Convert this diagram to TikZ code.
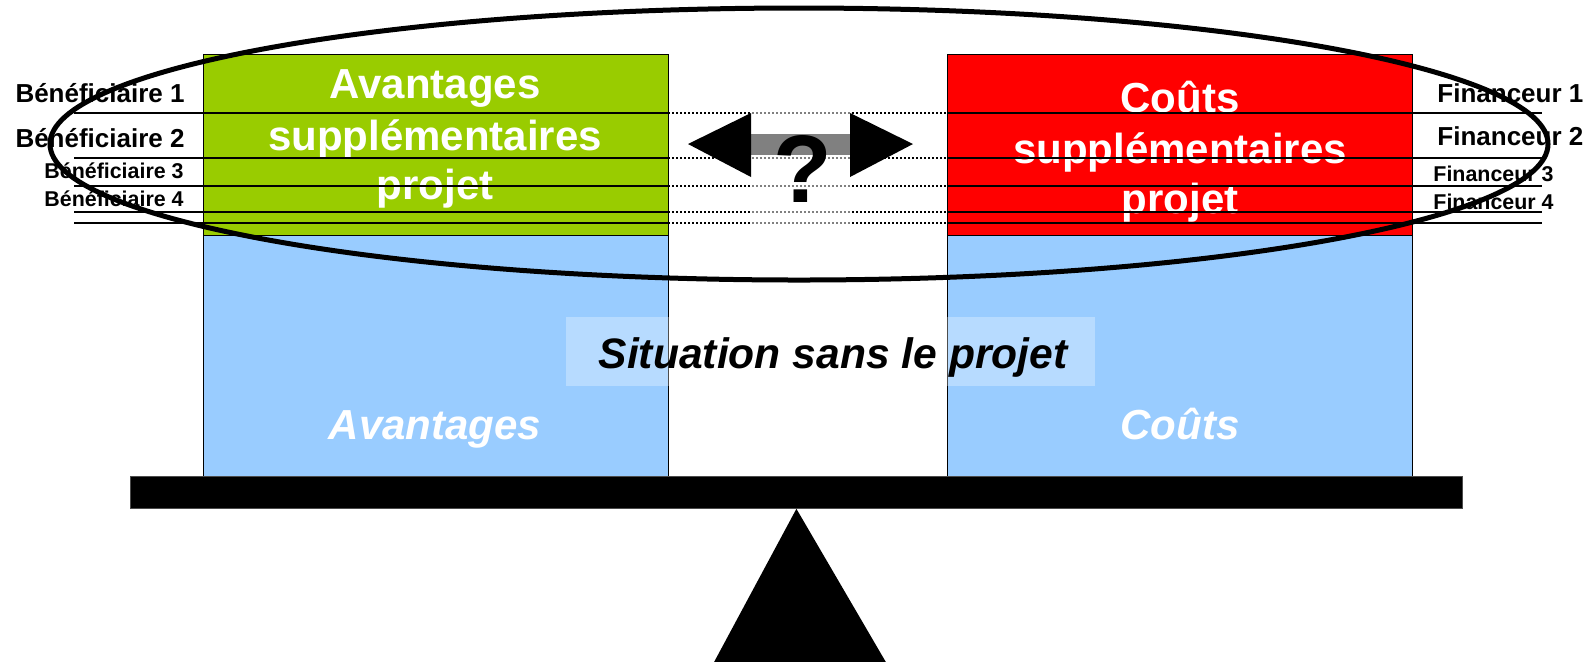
\documentclass[tikz,border=0pt]{standalone}
\usepackage{fontspec}
\setmainfont{Liberation Sans}
\usetikzlibrary{positioning, calc}

\definecolor{vert}{HTML}{99CC00}
\definecolor{rouge}{HTML}{FF0000}
\definecolor{bleu}{HTML}{99CCFF}

\tikzset{
	pan/.style={draw, line width=0.6pt, rectangle, anchor=north west, inner sep=0pt, minimum width=232.5pt},
	bigtext/.style={text=white, font=\fontsize{21}{25}\selectfont\bfseries, anchor=base, inner sep=0pt},
	lbl/.style={font=\fontsize{13}{15}\selectfont\bfseries, inner sep=0pt},
	smalllbl/.style={font=\fontsize{10.7}{12}\selectfont\bfseries, inner sep=0pt},
	rule/.style={line width=0.75pt},
	dotrule/.style={line width=0.75pt, dash pattern=on 0.75pt off 1.25pt}
}

\begin{document}
\begin{tikzpicture}[x=0.5pt, y=-0.5pt]
		\useasboundingbox (0,0) rectangle (1593,661);
		% plateaux
		\node[pan, fill=bleu, minimum height=120.5pt] (avbase) at (203,235) {};
		\node[pan, fill=bleu, minimum height=120.5pt] (cobase) at (947,235) {};
		\node[pan, fill=vert, minimum height=90.5pt] (avplus) at (203,54) {};
		\node[pan, fill=rouge, minimum height=90.5pt] (coplus) at (947,54) {};
		% situation de reference
		\node[fill=white, fill opacity=0.3, minimum width=264.5pt, minimum height=34.5pt, inner sep=0pt] (sansbox) at (830.5,351.5) {};
		\node[anchor=base, inner sep=0pt, font=\fontsize{21.3}{25}\selectfont\bfseries\itshape] (sanstext) at (833,368) {Situation sans le projet};
		\node[bigtext, font=\fontsize{21}{25}\selectfont\bfseries\itshape] (avtext) at (435,439) {Avantages};
		\node[bigtext, font=\fontsize{21}{25}\selectfont\bfseries\itshape] (cotext) at (1180,439) {Coûts};
		% textes des plateaux
		\foreach \txt/\yy [count=\i] in {Avantages/98, supplémentaires/150, projet/199}
			\node[bigtext] (avplus\i) at (435,\yy) {\txt};
		\foreach \txt/\yy [count=\i] in {Coûts/112, supplémentaires/163, projet/213}
			\node[bigtext] (coplus\i) at (1180,\yy) {\txt};
		% lignes
		\foreach \h in {113,158,186,212,223} {
			\draw[rule] (74,\h) -- (668,\h);
			\draw[dotrule] (668,\h) -- (947,\h);
			\draw[rule] (947,\h) -- (1542,\h);
		}
		% fleche double
		\fill[black] (751,134) rectangle (850,155);
		\fill[white, opacity=0.5] (751,100) rectangle (850,230);
		\fill[black] (688,144) -- (751,113) -- (751,177) -- cycle;
		\fill[black] (913,144) -- (850,113) -- (850,177) -- cycle;
		\node[anchor=base, inner sep=0pt, font=\fontsize{48}{50}\selectfont\bfseries] (quest) at (802.5,202) {?};
		% beneficiaires et financeurs
		\node[lbl, anchor=base east] (ben1) at (185,102) {Bénéficiaire 1};
		\node[lbl, anchor=base east] (ben2) at (185,147) {Bénéficiaire 2};
		\node[smalllbl, anchor=base east] (ben3) at (184,178) {Bénéficiaire 3};
		\node[smalllbl, anchor=base east] (ben4) at (184,206) {Bénéficiaire 4};
		\node[lbl, anchor=base west] (fin1) at (1437,102) {Financeur 1};
		\node[lbl, anchor=base west] (fin2) at (1437,145) {Financeur 2};
		\node[smalllbl, anchor=base west] (fin3) at (1433,181) {Financeur 3};
		\node[smalllbl, anchor=base west] (fin4) at (1433,209) {Financeur 4};
		% ellipse
		\draw[line width=2.5pt] (799,144) ellipse [x radius=374.5pt, y radius=68pt];
		% balance
		\node[fill=black, draw=black!70, minimum width=666pt, minimum height=16pt, inner sep=0pt, anchor=north west] (beam) at (130,476) {};
		\fill[black] (beam.south) -- (713,664) -- (887,664) -- cycle;
	\end{tikzpicture}
\end{document}
